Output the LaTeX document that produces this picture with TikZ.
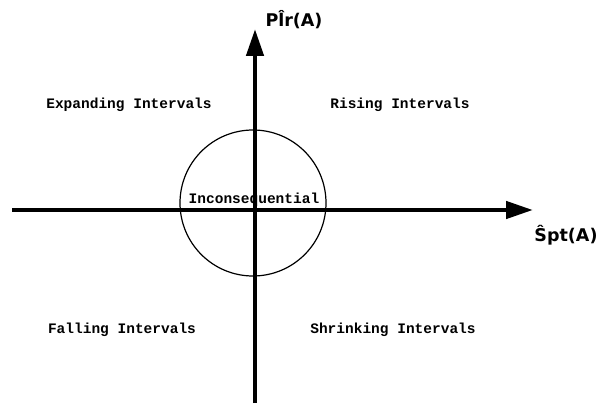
\documentclass[tikz,border=0pt]{standalone}
\usepackage{fontspec}
\setmainfont{DejaVu Sans}
\newfontfamily\regfont{Liberation Mono}
\usetikzlibrary{arrows.meta}
\begin{document}
\begin{tikzpicture}[x=1pt,y=-1pt,
  axis/.style={line width=4.5pt,-{Triangle[length=27pt,width=17pt]}},
  region/.style={font=\regfont\bfseries\fontsize{14.5}{16}\selectfont,inner sep=0pt},
  axlabel/.style={font=\bfseries\fontsize{17.5}{20}\selectfont,inner sep=0pt,anchor=base},
  zone/.style={draw,line width=1.2pt}]
\useasboundingbox (0,0) rectangle (614,404);
\coordinate (circc) at (253,203);
\draw[zone] (circc) circle[radius=73];
\coordinate (hl) at (12,210);
\coordinate (hr) at (533,210);
\coordinate (vb) at (255,403);
\coordinate (vt) at (255,29);
\draw[axis] (hl) -- (hr);
\draw[axis] (vb) -- (vt);
\node[axlabel] (ylab) at (294,27) {Pl̂r(A)};
\node[axlabel] (xlab) at (566,241) {Ŝpt(A)};
\node[region] (exp) at (129,105) {Expanding Intervals};
\node[region] (ris) at (400,105) {Rising Intervals};
\node[region] (fal) at (122,330) {Falling Intervals};
\node[region] (shr) at (393,330) {Shrinking Intervals};
\node[region] (inc) at (254,200) {Inconsequential};
\end{tikzpicture}
\end{document}
